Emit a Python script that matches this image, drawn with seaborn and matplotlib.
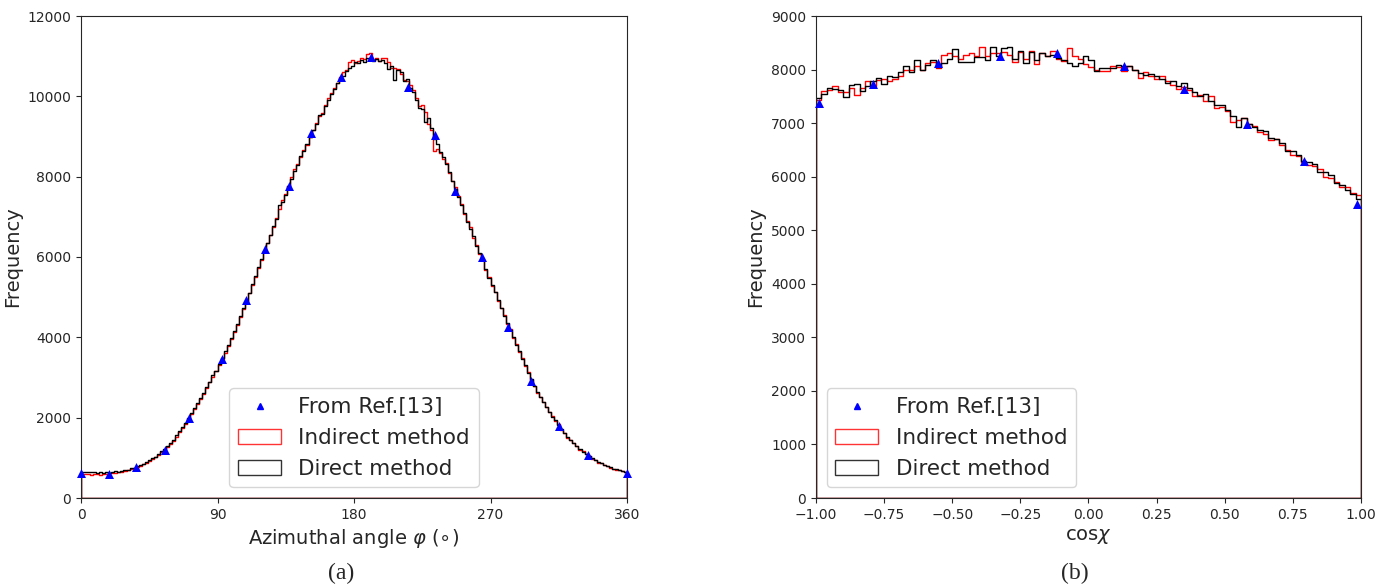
import numpy as np
import pandas as pd
import matplotlib
matplotlib.use("Agg")
import matplotlib.pyplot as plt
import seaborn as sns
from matplotlib.patches import Patch
from matplotlib.lines import Line2D

sns.set_style("ticks")
plt.rcParams["font.family"] = ["DejaVu Sans"]

# ---------------- (a) azimuthal angle, 2-degree bins ----------------
phi_range = (0, 360)
phi_nbins = 180

phi_direct = [
    655, 650, 648, 652, 640,   630, 640, 625, 638, 632,
    640, 660, 650, 680, 690,   700, 740, 755, 790, 820,
    850, 900, 935, 990, 1030,  1090, 1160, 1220, 1300, 1370,
    1450, 1560, 1670, 1780, 1870,  2000, 2110, 2250, 2360, 2490,
    2620, 2770, 2900, 3050, 3170,  3340, 3480, 3660, 3800, 3980,
    4150, 4330, 4530, 4720, 4900,  5110, 5320, 5520, 5740, 5950,
    6160, 6340, 6560, 6760, 6940,  7300, 7380, 7540, 7760, 7950,
    8150, 8300, 8520, 8640, 8820,  9000, 9150, 9310, 9540, 9560,
    9760, 9900, 10060, 10180, 10320,  10450, 10500, 10620, 10700, 10760,
    10860, 10820, 10900, 10850, 10960,  10900, 10880, 10940, 10870, 10910,
    10820, 10680, 10760, 10400, 10650,  10600, 10380, 10440, 10200, 10100,
    9900, 9700, 9680, 9350, 9450,  9200, 8950, 8820, 8620, 8500,
    8320, 8120, 7880, 7700, 7500,  7300, 7100, 6880, 6700, 6520,
    6280, 6100, 5920, 5700, 5480,  5310, 5120, 4920, 4740, 4540,
    4350, 4190, 4000, 3810, 3650,  3460, 3300, 3120, 2960, 2790,
    2640, 2510, 2400, 2260, 2150,  2020, 1930, 1820, 1720, 1610,
    1520, 1450, 1370, 1290, 1220,  1150, 1100, 1040, 990, 940,
    890, 860, 830, 790, 760,  730, 710, 690, 670, 650,
]

phi_indirect = [
    595, 590, 600, 585, 592,   590, 575, 600, 595, 610,
    620, 630, 640, 650, 665,   690, 720, 740, 770, 800,
    840, 880, 930, 970, 1020,  1070, 1140, 1200, 1270, 1340,
    1420, 1530, 1640, 1750, 1850,  1960, 2090, 2220, 2340, 2470,
    2600, 2740, 2880, 3010, 3150,  3300, 3450, 3620, 3780, 3950,
    4130, 4310, 4500, 4700, 4880,  5100, 5300, 5500, 5720, 5920,
    6150, 6360, 6540, 6750, 6960,  7200, 7420, 7560, 7780, 8000,
    8200, 8320, 8500, 8660, 8800,  8980, 9170, 9330, 9500, 9580,
    9780, 9950, 10080, 10200, 10330,  10480, 10600, 10650, 10850, 10900,
    10820, 10880, 10950, 10920, 11050,  11080, 10900, 10950, 10880, 10950,
    10950, 10850, 10700, 10700, 10680,  10550, 10400, 10380, 10280, 10150,
    9950, 9750, 9780, 9600, 9300,  9150, 8650, 8700, 8600, 8450,
    8350, 8100, 7900, 7750, 7520,  7330, 7080, 6900, 6750, 6480,
    6300, 6080, 5950, 5680, 5500,  5280, 5140, 4900, 4720, 4560,
    4330, 4200, 3980, 3830, 3640,  3480, 3280, 3130, 2940, 2800,
    2620, 2520, 2380, 2270, 2130,  2030, 1910, 1830, 1700, 1620,
    1500, 1440, 1360, 1300, 1200,  1160, 1090, 1050, 980, 950,
    880, 860, 820, 800, 750,  730, 700, 700, 660, 640,
]

phi_ref_x = [0, 18.7, 36.3, 55.2, 71.4, 92.8, 109, 121.5, 137.3, 151.6,
             171.2, 191, 215.6, 233.2, 246.6, 264.3, 281.8, 296.7, 315.4,
             334.5, 360]
phi_ref_y = [620, 600, 760, 1200, 1990, 3450, 4920, 6210, 7770, 9090,
             10470, 10990, 10220, 9040, 7650, 5990, 4250, 2920, 1800,
             1060, 630]

# ---------------- (b) cos(chi), 0.02-wide bins ----------------
cos_range = (-1, 1)
cos_nbins = 100

cos_direct = [
    7460, 7550, 7650, 7640, 7620,  7480, 7720, 7730, 7600, 7700,
    7780, 7850, 7730, 7880, 7860,  7960, 8060, 7960, 8170, 8000,
    8080, 8180, 8050, 8120, 8200,  8380, 8140, 8150, 8150, 8230,
    8230, 8180, 8420, 8250, 8400,  8420, 8200, 8350, 8130, 8330,
    8180, 8300, 8260, 8280, 8220,  8180, 8120, 8060, 8120, 8260,
    8180, 7970, 8020, 8030, 8030,  8080, 8060, 8060, 8000, 7930,
    7900, 7920, 7880, 7830, 7740,  7780, 7690, 7750, 7650, 7580,
    7500, 7550, 7420, 7330, 7330,  7250, 7130, 6930, 7100, 6990,
    6920, 6880, 6850, 6720, 6700,  6620, 6480, 6470, 6400, 6300,
    6280, 6240, 6080, 6080, 6030,  5880, 5850, 5750, 5680, 5580,
]

cos_indirect = [
    7430, 7600, 7620, 7700, 7580,  7580, 7650, 7520, 7650, 7780,
    7700, 7800, 7820, 7780, 7820,  7880, 7990, 8000, 8060, 8000,
    8120, 8140, 8030, 8280, 8300,  8250, 8200, 8280, 8300, 8250,
    8420, 8250, 8300, 8310, 8320,  8280, 8150, 8320, 8200, 8350,
    8100, 8300, 8250, 8350, 8200,  8160, 8400, 8260, 8200, 8100,
    8050, 8000, 7980, 7980, 8070,  8050, 7980, 8060, 8000, 7850,
    7950, 7880, 7830, 7880, 7790,  7720, 7640, 7670, 7620, 7500,
    7520, 7420, 7500, 7280, 7300,  7220, 7020, 7050, 7100, 6980,
    6950, 6840, 6800, 6680, 6700,  6600, 6500, 6400, 6380, 6280,
    6220, 6200, 6140, 6000, 5980,  5900, 5800, 5800, 5700, 5650,
]

cos_ref_x = [-0.988, -0.79, -0.554, -0.324, -0.117, 0.131, 0.351, 0.583,
             0.789, 0.985]
cos_ref_y = [7380, 7725, 8120, 8255, 8315, 8070, 7636, 6985, 6300, 5490]


def draw_panel(ax, brange, nbins, direct, indirect, ref_x, ref_y, legend_loc):
    edges = np.linspace(brange[0], brange[1], nbins + 1)
    centers = (edges[:-1] + edges[1:]) / 2
    df = pd.DataFrame({"x": centers, "direct": direct, "indirect": indirect})
    for col, colour in (("indirect", "red"), ("direct", "black")):
        sns.histplot(data=df, x="x", weights=col, bins=nbins, binrange=brange,
                     element="step", fill=True, color=colour,
                     facecolor="none", edgecolor=colour, linewidth=1.0, ax=ax)
    sns.scatterplot(x=ref_x, y=ref_y, marker="^", color="blue", s=42,
                    linewidth=0, ax=ax, zorder=5, clip_on=False)
    handles = [
        Line2D([], [], marker="^", color="blue", linestyle="none",
               markersize=5),
        Patch(facecolor="none", edgecolor="red", alpha=0.8),
        Patch(facecolor="none", edgecolor="black", alpha=0.8),
    ]
    ax.legend(handles, ["From Ref.[13]", "Indirect method", "Direct method"],
              loc=legend_loc, fontsize=15.5)
    ax.set_ylabel("Frequency", fontsize=14)
    ax.tick_params(labelsize=10)


fig = plt.figure(figsize=(13.92, 5.88), dpi=100)
ax1 = fig.add_axes([81 / 1392, 90 / 588, 546 / 1392, 482 / 588])
ax2 = fig.add_axes([816 / 1392, 90 / 588, 545 / 1392, 482 / 588])

draw_panel(ax1, phi_range, phi_nbins, phi_direct, phi_indirect,
           phi_ref_x, phi_ref_y, "lower center")
ax1.set_xlim(*phi_range)
ax1.set_ylim(0, 12000)
ax1.set_xticks([0, 90, 180, 270, 360])
ax1.set_yticks(np.arange(0, 12001, 2000))
ax1.set_xlabel(r"Azimuthal angle $\varphi$ ($\circ$)", fontsize=14)

draw_panel(ax2, cos_range, cos_nbins, cos_direct, cos_indirect,
           cos_ref_x, cos_ref_y, "lower left")
ax2.set_xlim(*cos_range)
ax2.set_ylim(0, 9000)
ax2.set_xticks(np.linspace(-1, 1, 9))
ax2.set_yticks(np.arange(0, 9001, 1000))
ax2.set_xlabel(r"cos$\chi$", fontsize=14)

fig.text(341 / 1392, 1 - 573 / 588, "(a)", ha="center", va="center",
         fontsize=17, family="Liberation Serif")
fig.text(1075 / 1392, 1 - 573 / 588, "(b)", ha="center", va="center",
         fontsize=17, family="Liberation Serif")

fig.savefig("out.png", dpi=100)
